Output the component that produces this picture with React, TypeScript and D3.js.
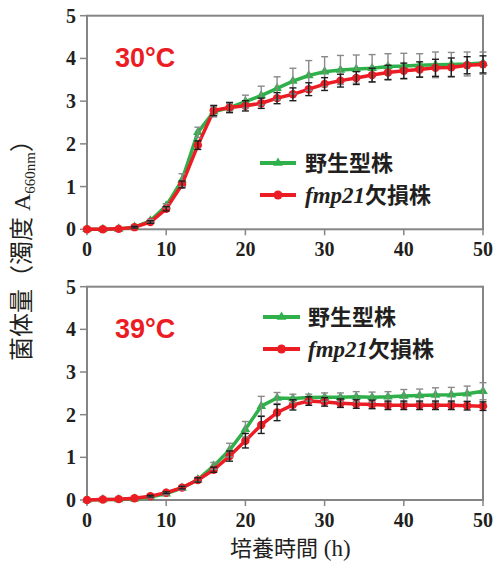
import React from "react";
import * as d3 from "d3";

const hours = [0,2,4,6,8,10,12,14,16,18,20,22,24,26,28,30,32,34,36,38,40,42,44,46,48,50];

// 30°C
const wt30 = [0,0,0.01,0.05,0.2,0.55,1.15,2.27,2.75,2.85,2.99,3.13,3.3,3.47,3.6,3.69,3.73,3.75,3.77,3.81,3.82,3.84,3.85,3.86,3.87,3.89];
const wt30Err = [0.01,0.01,0.01,0.02,0.03,0.05,0.15,0.12,0.12,0.1,0.15,0.22,0.27,0.3,0.35,0.35,0.34,0.33,0.32,0.3,0.3,0.27,0.3,0.28,0.28,0.26];
const ko30 = [0,0,0.01,0.05,0.17,0.48,1.05,1.97,2.78,2.85,2.89,2.95,3.07,3.16,3.28,3.4,3.48,3.54,3.61,3.67,3.71,3.74,3.78,3.79,3.84,3.86];
const ko30Err = [0.01,0.01,0.01,0.02,0.03,0.05,0.08,0.1,0.12,0.12,0.12,0.12,0.13,0.15,0.15,0.15,0.15,0.15,0.16,0.17,0.18,0.18,0.2,0.22,0.2,0.2];

// 39°C
const wt39 = [0,0.01,0.01,0.03,0.07,0.15,0.28,0.48,0.8,1.17,1.66,2.2,2.39,2.38,2.4,2.41,2.41,2.42,2.41,2.42,2.44,2.45,2.46,2.47,2.49,2.55];
const wt39Err = [0.01,0.01,0.01,0.01,0.02,0.03,0.04,0.05,0.08,0.16,0.18,0.23,0.13,0.1,0.08,0.1,0.1,0.12,0.12,0.12,0.15,0.15,0.17,0.17,0.18,0.2];
const ko39 = [0,0.01,0.02,0.04,0.09,0.17,0.29,0.47,0.71,1.03,1.39,1.76,2.05,2.23,2.32,2.3,2.27,2.25,2.24,2.22,2.22,2.22,2.22,2.22,2.21,2.2];
const ko39Err = [0.01,0.01,0.01,0.01,0.02,0.02,0.03,0.05,0.06,0.12,0.17,0.2,0.19,0.12,0.1,0.1,0.1,0.1,0.1,0.1,0.1,0.1,0.1,0.1,0.1,0.1];

const xTicks = [0,10,20,30,40,50];
const yTicks = [0,1,2,3,4,5];
const titles = ["30°C", "39°C"];
const legendWT = "野生型株";
const legendKOItalic = "fmp21";
const legendKO = "欠損株";

const GREEN = "#2fb04a";
const RED = "#ec1c24";
const FRAME = "#858585";
const TXT = "#231f20";
const CJK = "'Noto Sans CJK JP', 'Noto Sans', sans-serif";
const SERIF = "'Liberation Serif', 'Times New Roman', serif";

const x = d3.scaleLinear().domain([0, 50]).range([87, 483]);

type PanelProps = {
  top: number; bottom: number; title: string;
  wt: number[]; wtErr: number[]; ko: number[]; koErr: number[];
  legendY: number; legendX0: number; legendX1: number; legendTextX: number;
};

function Panel(p: PanelProps) {
  const y = d3.scaleLinear().domain([0, 5]).range([p.bottom, p.top]);
  const line = d3.line<number>().x((_, i) => x(hours[i])).y((v) => y(v));
  const tri = d3.symbol().type(d3.symbolTriangle).size(40)();
  const err = (vals: number[], errs: number[], color: string) =>
    vals.map((v, i) => {
      const cx = x(hours[i]);
      const y1 = y(v + errs[i]);
      const y2 = y(Math.max(0, v - errs[i]));
      if (y2 - y1 < 1.5) return null;
      return (
        <g key={i} stroke={color} strokeWidth={1.4}>
          <line x1={cx} x2={cx} y1={y1} y2={y2} />
          <line x1={cx - 3.5} x2={cx + 3.5} y1={y1} y2={y1} />
          <line x1={cx - 3.5} x2={cx + 3.5} y1={y2} y2={y2} />
        </g>
      );
    });
  const lg = p.legendY;
  const lmid = (p.legendX0 + p.legendX1) / 2;
  return (
    <g>
      <rect x={x(0)} y={p.top} width={x(50) - x(0)} height={p.bottom - p.top} fill="none" stroke={FRAME} strokeWidth={2} />
      {yTicks.map((t) => (
        <g key={"y" + t}>
          <line x1={x(0) - 7} x2={x(0)} y1={y(t)} y2={y(t)} stroke={FRAME} strokeWidth={1.5} />
          <text x={76} y={y(t)} dy="0.35em" textAnchor="end" fontFamily={SERIF} fontWeight="bold" fontSize={20} fill={TXT}>{t}</text>
        </g>
      ))}
      {xTicks.map((t) => (
        <g key={"x" + t}>
          <line x1={x(t)} x2={x(t)} y1={p.bottom} y2={p.bottom + 6} stroke={FRAME} strokeWidth={1.5} />
          <text x={x(t)} y={p.bottom + 27} textAnchor="middle" fontFamily={SERIF} fontWeight="bold" fontSize={20} fill={TXT}>{t}</text>
        </g>
      ))}
      <text x={115} y={p.top + 51} fontFamily="'Liberation Sans', Arial, sans-serif" fontWeight="bold" fontSize={27} fill={RED}>{p.title}</text>

      <path d={line(p.wt) || ""} fill="none" stroke={GREEN} strokeWidth={3.5} strokeLinejoin="round" />
      {p.wt.map((v, i) => (
        <path key={"gm" + i} d={tri || ""} transform={`translate(${x(hours[i])},${y(v)})`} fill={GREEN} />
      ))}
      <path d={line(p.ko) || ""} fill="none" stroke={RED} strokeWidth={3.5} strokeLinejoin="round" />
      {p.ko.map((v, i) => (
        <circle key={"rm" + i} cx={x(hours[i])} cy={y(v)} r={4.2} fill={RED} />
      ))}
      {err(p.wt, p.wtErr, "#8a8a8a")}
      {err(p.ko, p.koErr, "#1e1e1e")}

      <line x1={p.legendX0} x2={p.legendX1} y1={lg} y2={lg} stroke={GREEN} strokeWidth={4} />
      <path d={tri || ""} transform={`translate(${lmid},${lg})`} fill={GREEN} />
      <text x={p.legendTextX} y={lg + 8} fontFamily={CJK} fontWeight="bold" fontSize={22} fill={TXT}>{legendWT}</text>
      <line x1={p.legendX0} x2={p.legendX1} y1={lg + 32} y2={lg + 32} stroke={RED} strokeWidth={4} />
      <circle cx={lmid} cy={lg + 32} r={4.5} fill={RED} />
      <text x={p.legendTextX} y={lg + 40} fontSize={22} fill={TXT}>
        <tspan fontFamily={SERIF} fontStyle="italic" fontWeight="bold" fontSize={23}>{legendKOItalic}</tspan>
        <tspan fontFamily={CJK} fontWeight="bold">{legendKO}</tspan>
      </text>
    </g>
  );
}

export default function App() {
  return (
    <svg width={494} height={568} style={{ position: "absolute", left: 0, top: 0, background: "#fff" }}>
      <rect width={494} height={568} fill="#fff" />
      <Panel top={15.7} bottom={229.3} title={titles[0]} wt={wt30} wtErr={wt30Err} ko={ko30} koErr={ko30Err}
        legendY={163} legendX0={260} legendX1={296} legendTextX={305} />
      <Panel top={286.7} bottom={500} title={titles[1]} wt={wt39} wtErr={wt39Err} ko={ko39} koErr={ko39Err}
        legendY={317} legendX0={263} legendX1={300} legendTextX={308} />
      <text transform="translate(30,361) rotate(-90)" fontSize={24} fill={TXT}>
        <tspan fontFamily={CJK}>菌体量（濁度</tspan>
        <tspan fontFamily={SERIF}> A</tspan>
        <tspan fontFamily={SERIF} fontSize={15} dy={5}>660nm</tspan>
        <tspan fontFamily={CJK} dy={-5}>）</tspan>
      </text>
      <text x={230} y={556} fontSize={22} fill={TXT}>
        <tspan fontFamily={CJK}>培養時間</tspan>
        <tspan fontFamily={SERIF} fontSize={23}> (h)</tspan>
      </text>
    </svg>
  );
}
